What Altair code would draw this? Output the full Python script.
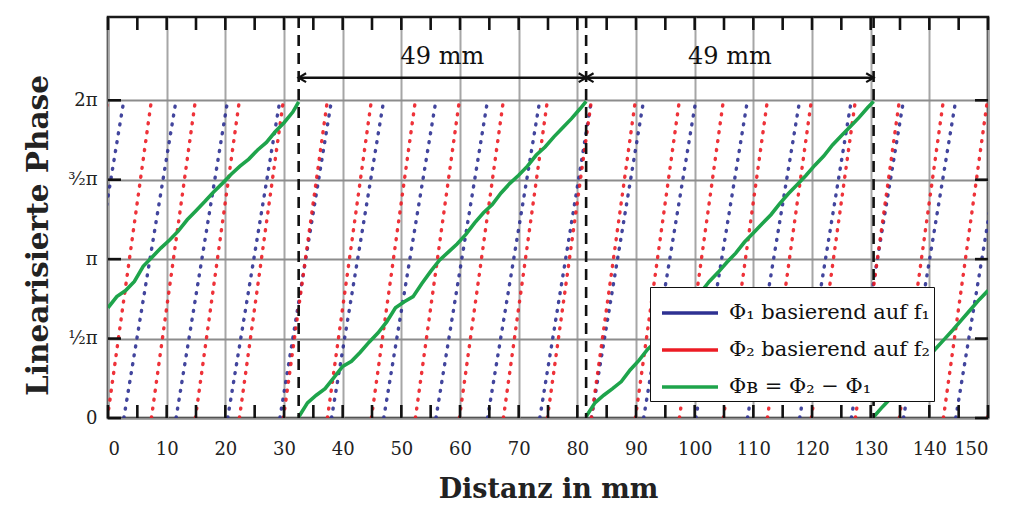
import math
import altair as alt
import pandas as pd

PI = math.pi
TWO_PI = 2 * math.pi

# ---------------- data ----------------
x_ticks = list(range(0, 151, 5))
y_tick_values = [0, PI / 2, PI, 3 * PI / 2, 2 * PI]
y_tick_labels = ["0", "½π", "π", "³⁄₂π", "2π"]

series_names = ["Φ₁ basierend auf f₁", "Φ₂ basierend auf f₂", "Φʙ = Φ₂ − Φ₁"]
series_colors = ["#2e3192", "#ec1c24", "#1ea44b"]

# positions (mm) where the wrapped phase jumps from 2π back to 0
blue_wraps = [-6.2, 2.7, 11.6, 20.4, 29.3, 38.1, 47.0, 55.9, 64.7, 73.6, 82.4,
              91.3, 100.2, 109.0, 117.9, 126.7, 135.6, 144.5, 153.4]
red_wraps = [-7.6, -0.1, 7.4, 14.9, 22.4, 29.9, 37.4, 44.9, 52.4, 59.9, 67.4, 74.9,
             82.4, 89.9, 97.4, 104.9, 112.4, 119.9, 127.4, 134.9, 142.4, 149.9, 157.4]

green_x1 = [0, 1.5, 3, 4.5, 6, 7.5, 9, 10.5, 12, 13.5, 15, 16.5, 18, 19.5, 21, 22.5,
            24, 25.5, 27, 28.5, 30, 31.5, 32.5]
green_y1 = [2.18, 2.40, 2.52, 2.70, 3.00, 3.18, 3.36, 3.52, 3.70, 3.92, 4.10, 4.28,
            4.47, 4.64, 4.82, 4.98, 5.12, 5.30, 5.45, 5.66, 5.84, 6.05, 6.25]
green_x2 = [32.5, 34, 35.5, 37, 38.5, 40, 41.5, 43, 44.5, 46, 47.5, 49, 50.5, 52, 53.5,
            55, 56.5, 58, 59.5, 61, 62.5, 64, 65.5, 67, 68.5, 70, 71.5, 73, 74.5, 76,
            77.5, 79, 80.5, 81.5]
green_y2 = [0.02, 0.30, 0.45, 0.58, 0.80, 1.02, 1.12, 1.30, 1.50, 1.68, 1.90, 2.18,
            2.30, 2.40, 2.66, 2.90, 3.12, 3.28, 3.44, 3.63, 3.86, 4.06, 4.22, 4.45,
            4.64, 4.80, 4.98, 5.20, 5.36, 5.56, 5.74, 5.92, 6.12, 6.26]
green_x3 = [81.5, 83, 84.5, 86, 87.5, 89, 90.5, 92, 93.5, 95, 96.5, 98, 99.5, 101,
            102.5, 104, 105.5, 107, 108.5, 110, 111.5, 113, 114.5, 116, 117.5, 119,
            120.5, 122, 123.5, 125, 126.5, 128, 129.5, 130.5]
green_y3 = [0.03, 0.30, 0.45, 0.58, 0.72, 0.95, 1.14, 1.36, 1.52, 1.70, 1.90, 2.10,
            2.28, 2.48, 2.70, 2.88, 3.08, 3.26, 3.48, 3.66, 3.84, 4.02, 4.24, 4.44,
            4.62, 4.80, 5.00, 5.18, 5.40, 5.58, 5.76, 5.94, 6.14, 6.26]
green_x4 = [130.5, 132, 133.5, 135, 136.5, 138, 139.5, 141, 142.5, 144, 145.5, 147,
            148.5, 150]
green_y4 = [0.02, 0.22, 0.40, 0.55, 0.78, 0.98, 1.14, 1.36, 1.55, 1.74, 1.94, 2.14,
            2.34, 2.52]

dashed_x = [32.5, 81.5, 130.5]
arrow_start = [32.5, 81.5]
arrow_end = [81.5, 130.5]
arrow_text = ["49 mm", "49 mm"]
arrow_level = 6.73
arrow_text_level = 7.14

# ---------------- tables ----------------
ramp_rows = []
for name, wraps in ((series_names[0], blue_wraps), (series_names[1], red_wraps)):
    for a, b in zip(wraps[:-1], wraps[1:]):
        ramp_rows.append({"series": name, "x": a, "x2": b, "y": 0.0, "y2": TWO_PI})
ramps = pd.DataFrame(ramp_rows)

green_rows = []
for seg, (xs_, ys_) in enumerate([(green_x1, green_y1), (green_x2, green_y2),
                                  (green_x3, green_y3), (green_x4, green_y4)]):
    for xv, yv in zip(xs_, ys_):
        green_rows.append({"series": series_names[2], "seg": seg, "x": xv, "y": yv})
green = pd.DataFrame(green_rows)

arrows = pd.DataFrame({"x": arrow_start, "x2": arrow_end, "text": arrow_text,
                       "y": [arrow_level] * len(arrow_start),
                       "ty": [arrow_text_level] * len(arrow_start)})
arrows["xm"] = (arrows["x"] + arrows["x2"]) / 2
dashes = pd.DataFrame({"x": dashed_x})
xt = pd.DataFrame({"x": x_ticks})
yt = pd.DataFrame({"y": y_tick_values})
legend_df = pd.DataFrame({"series": series_names})

W, H = 880, 401
xs = alt.Scale(domain=[0, 150], nice=False, zero=False)
ys = alt.Scale(domain=[0, 7.93], nice=False, zero=False)
color_scale = alt.Scale(domain=series_names, range=series_colors)

SERIF = "DejaVu Serif"

label_expr = "''"
for v, lab in reversed(list(zip(y_tick_values, y_tick_labels))):
    label_expr = f"abs(datum.value - {v}) < 0.01 ? '{lab}' : ({label_expr})"

x_axis = alt.Axis(values=x_ticks, labelExpr="datum.value % 10 == 0 ? datum.label : ''",
                  title="Distanz in mm", ticks=False, domain=False, grid=True,
                  gridColor="#a6a6a6", gridWidth=2, labelPadding=22, labelFontSize=18,
                  titleFontSize=27, titleFontWeight="bold", titlePadding=18)
y_axis = alt.Axis(values=y_tick_values, labelExpr=label_expr, title="Linearisierte Phase",
                  ticks=False, domain=False, grid=True, gridColor="#8c8c8c", gridWidth=2.2,
                  labelPadding=11, labelFontSize=18, titleFontSize=29.5,
                  titleFontWeight="bold", titlePadding=14, titleY=218)

# legend-only layer (a single point per series draws no visible line)
legend_layer = alt.Chart(legend_df).mark_line(strokeWidth=3.5).encode(
    color=alt.Color("series:N", scale=color_scale, sort=series_names, legend=alt.Legend(
        title=None, orient="none", legendX=542, legendY=270, fillColor="white",
        strokeColor="#111111", padding=4, symbolType="M-1.4,0L1.4,0", symbolSize=1600,
        symbolOffset=14, symbolStrokeWidth=3.5, labelFont=SERIF, labelFontSize=21,
        labelColor="#111", labelLimit=0, rowPadding=5, labelOffset=17)),
)

ramp_layer = alt.Chart(ramps).mark_rule(
    strokeDash=[1, 8], strokeCap="round", strokeWidth=3.4, clip=True, opacity=0.9
).encode(
    x=alt.X("x:Q", scale=xs, axis=x_axis),
    x2="x2:Q",
    y=alt.Y("y:Q", scale=ys, axis=y_axis),
    y2="y2:Q",
    color=alt.Color("series:N", scale=color_scale, legend=None),
)

green_layer = alt.Chart(green).mark_line(strokeWidth=3.6, clip=True).encode(
    x=alt.X("x:Q", scale=xs),
    y=alt.Y("y:Q", scale=ys),
    detail="seg:N",
    order="x:Q",
    color=alt.Color("series:N", scale=color_scale, legend=None),
)

dash_layer = alt.Chart(dashes).mark_rule(strokeDash=[11, 7], strokeWidth=2.6,
                                         color="#111111").encode(x=alt.X("x:Q", scale=xs))

arrow_layer = alt.Chart(arrows).mark_rule(strokeWidth=2.5, color="#111111").encode(
    x=alt.X("x:Q", scale=xs), x2="x2:Q", y=alt.Y("y:Q", scale=ys))
head_right = alt.Chart(arrows).mark_point(
    shape="M-1,-0.6L0,0L-1,0.6", filled=False, strokeWidth=2.2, size=220, color="#111111",
    opacity=1).encode(x=alt.X("x2:Q", scale=xs), y=alt.Y("y:Q", scale=ys))
head_left = alt.Chart(arrows).mark_point(
    shape="M1,-0.6L0,0L1,0.6", filled=False, strokeWidth=2.2, size=220, color="#111111",
    opacity=1).encode(x=alt.X("x:Q", scale=xs), y=alt.Y("y:Q", scale=ys))
arrow_text_layer = alt.Chart(arrows).mark_text(font=SERIF, fontSize=24, color="#111111").encode(
    x=alt.X("xm:Q", scale=xs), y=alt.Y("ty:Q", scale=ys), text="text:N")

tick_style = dict(color="#111111", strokeWidth=2.6)
bottom_ticks = alt.Chart(xt).mark_rule(**tick_style).encode(
    x=alt.X("x:Q", scale=xs), y=alt.value(H), y2=alt.value(H - 13))
top_ticks = alt.Chart(xt).mark_rule(**tick_style).encode(
    x=alt.X("x:Q", scale=xs), y=alt.value(0), y2=alt.value(13))
left_ticks = alt.Chart(yt).mark_rule(**tick_style).encode(
    y=alt.Y("y:Q", scale=ys), x=alt.value(0), x2=alt.value(13))
right_ticks = alt.Chart(yt).mark_rule(**tick_style).encode(
    y=alt.Y("y:Q", scale=ys), x=alt.value(W - 13), x2=alt.value(W))

chart = alt.layer(
    legend_layer, ramp_layer, green_layer, dash_layer, arrow_layer, head_right, head_left,
    arrow_text_layer, bottom_ticks, top_ticks, left_ticks, right_ticks
).properties(
    width=W, height=H,
    padding={"left": 108, "top": 17, "right": 29, "bottom": 99},
    autosize=alt.AutoSizeParams(type="none"),
).configure_view(
    stroke="#1a1a1a", strokeWidth=2.6
).configure_axis(
    labelFont=SERIF, titleFont=SERIF, labelColor="#222222", titleColor="#222222"
)

chart.save("out.html", embed_options={"renderer": "svg", "actions": False})
